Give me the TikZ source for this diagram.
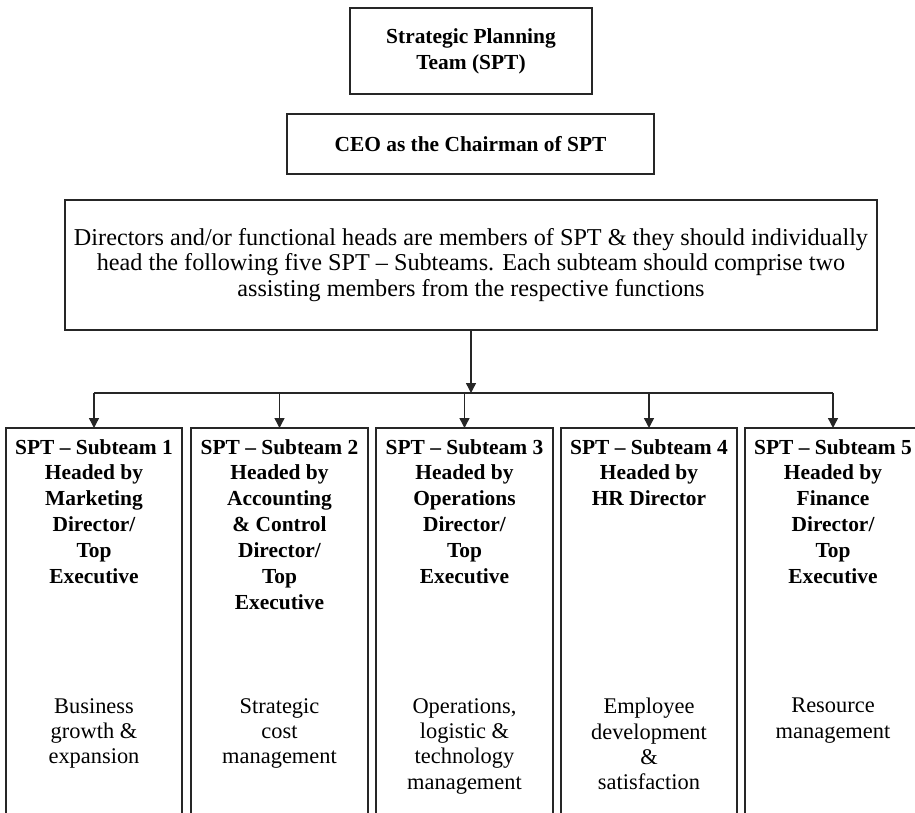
\documentclass[tikz,border=0pt]{standalone}
\usepackage{fontspec}
\setmainfont{Liberation Serif}
\usetikzlibrary{arrows.meta}
\begin{document}
\begin{tikzpicture}[x=1bp,y=-1bp,
  frame/.style={draw=black!85, line width=1.7bp},
  box/.style={frame, align=center, inner sep=0pt},
  headtext/.style={font=\bfseries\fontsize{21.5}{26}\selectfont},
  bodytext/.style={font=\fontsize{22.5}{25.5}\selectfont},
  widetext/.style={font=\fontsize{24.3}{26}\selectfont},
  slot/.style={minimum width=176bp, minimum height=400bp, inner sep=0pt},
  label/.style={align=center, inner sep=0pt, anchor=north},
  arr/.style={draw=black!85, line width=1.4bp, -{Triangle[length=10bp,width=10bp]}},
  link/.style={draw=black!85, line width=1.4bp}]
\useasboundingbox (0,0) rectangle (915,813);
\clip (0,0) rectangle (915,813);

% upper hierarchy
\node[box, headtext, minimum width=242bp, minimum height=86bp] (spt) at (471,51)
  {Strategic Planning\\Team (SPT)};
\node[box, headtext, minimum width=367bp, minimum height=60bp] (ceo) at (470.5,144)
  {CEO as the Chairman of SPT};
\node[box, widetext, minimum width=812bp, minimum height=130bp] (dirs) at (471,265)
  {Directors and/or functional heads are members of SPT \& they should individually\\
   head the following five SPT -- Subteams. Each subteam should comprise two\\
   assisting members from the respective functions};

% distribution bus
\coordinate (bus) at (471,393);

% subteam columns (open at the bottom)
\foreach \i/\cx in {1/94,2/279.5,3/464.5,4/649,5/833}{
  \node[slot, anchor=north] (s\i) at (\cx,428) {};
  \draw[frame] (s\i.south west) |- (s\i.north east) -- (s\i.south east);
}

\draw[arr] (dirs.south) -- (bus);
\draw[link] (s1.north |- bus) -- (s5.north |- bus);
\foreach \i in {1,...,5}{
  \draw[arr] (s\i.north |- bus) -- (s\i.north);
}

% subteam headings
\node[label, headtext] (h1) at (94,439)
  {SPT -- Subteam 1\\Headed by\\Marketing\\Director/\\Top\\Executive};
\node[label, headtext] (h2) at (279.5,439)
  {SPT -- Subteam 2\\Headed by\\Accounting\\\& Control\\Director/\\Top\\Executive};
\node[label, headtext] (h3) at (464.5,439)
  {SPT -- Subteam 3\\Headed by\\Operations\\Director/\\Top\\Executive};
\node[label, headtext] (h4) at (649,439)
  {SPT -- Subteam 4\\Headed by\\HR Director};
\node[label, headtext] (h5) at (833,439)
  {SPT -- Subteam 5\\Headed by\\Finance\\Director/\\Top\\Executive};

% areas of responsibility
\node[label, bodytext] (r1) at (94,698) {Business\\growth \&\\expansion};
\node[label, bodytext] (r2) at (279.5,698) {Strategic\\cost\\management};
\node[label, bodytext] (r3) at (464.5,698) {Operations,\\logistic \&\\technology\\management};
\node[label, bodytext] (r4) at (649,698) {Employee\\development\\\&\\satisfaction};
\node[label, bodytext] (r5) at (833,698) {Resource\\management};
\end{tikzpicture}
\end{document}
